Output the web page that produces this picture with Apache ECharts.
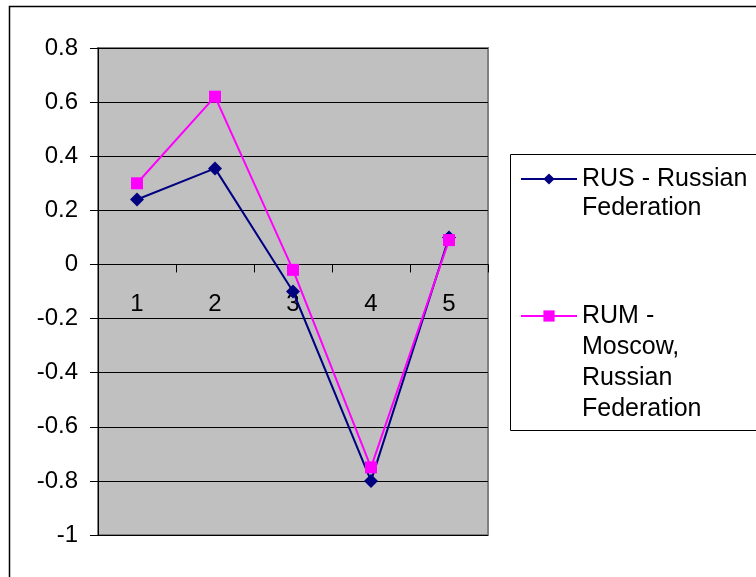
<!DOCTYPE html>
<html>
<head>
<meta charset="utf-8">
<script src="https://cdn.jsdelivr.net/npm/echarts@6/dist/echarts.min.js"></script>
<style>
  html, body { margin: 0; padding: 0; background: #fff; }
  #chart { width: 756px; height: 577px; }
</style>
</head>
<body>
<div id="chart"></div>
<script>
// Categories along the x axis
const categories = ['1', '2', '3', '4', '5'];
// Series values
const rusValues = [0.24, 0.355, -0.10, -0.80, 0.10];
const rumValues = [0.30, 0.62, -0.02, -0.75, 0.09];
// Value axis range and step
const yMin = -1;
const yMax = 0.8;
const yStep = 0.2;
// Series names and their wrapped legend labels
const rusName = 'RUS - Russian Federation';
const rumName = 'RUM - Moscow, Russian Federation';
const rusLines = ['RUS - Russian', 'Federation'];
const rumLines = ['RUM -', 'Moscow,', 'Russian', 'Federation'];

const FONT = 'Arial, "Liberation Sans", sans-serif';
const GRID = { left: 98, top: 48, width: 390, height: 487 };

// Legend text is centred on its marker; pad with empty lines above so
// the first line sits level with the marker.
function topAligned(lines) {
  return '\n'.repeat(lines.length - 1) + lines.join('\n');
}

// The category axis crosses the value axis at zero.
const zeroOffset = -GRID.height * (0 - yMin) / (yMax - yMin);

const chart = echarts.init(document.getElementById('chart'), null, { renderer: 'canvas' });

function legendText(lineHeight) {
  return { fontFamily: FONT, fontSize: 25, color: '#000', lineHeight: lineHeight };
}

chart.setOption({
  animation: false,
  backgroundColor: '#fff',
  graphic: [
    {
      type: 'rect',
      shape: { x: 9.5, y: 6.5, width: 800, height: 620 },
      style: { fill: 'none', stroke: '#000', lineWidth: 1.5 },
      z: -1
    },
    {
      type: 'rect',
      shape: { x: 510.5, y: 154.5, width: 300, height: 276 },
      style: { fill: '#fff', stroke: '#000', lineWidth: 1 },
      z: 0
    }
  ],
  grid: Object.assign({
    show: true,
    backgroundColor: '#C0C0C0',
    borderColor: '#808080',
    borderWidth: 2
  }, GRID),
  legend: [
    {
      data: [rusName],
      orient: 'vertical',
      left: 515,
      top: 130.5,
      padding: 5,
      itemWidth: 56,
      itemHeight: 14,
      formatter: () => topAligned(rusLines),
      textStyle: legendText(29),
      z: 5
    },
    {
      data: [rumName],
      orient: 'vertical',
      left: 515,
      top: 202.5,
      padding: 5,
      itemWidth: 56,
      itemHeight: 14,
      formatter: () => topAligned(rumLines),
      textStyle: legendText(31),
      z: 5
    }
  ],
  xAxis: {
    type: 'category',
    data: categories,
    boundaryGap: true,
    offset: zeroOffset,
    axisLine: { onZero: false, lineStyle: { color: '#000', width: 1 } },
    axisTick: { show: true, length: 8, lineStyle: { color: '#000' } },
    axisLabel: { fontFamily: FONT, fontSize: 24, color: '#000', margin: 28 },
    splitLine: { show: false }
  },
  yAxis: {
    type: 'value',
    min: yMin,
    max: yMax,
    interval: yStep,
    axisLine: { show: true, lineStyle: { color: '#000', width: 1 } },
    axisTick: { show: true, length: 8, lineStyle: { color: '#000' } },
    axisLabel: {
      fontFamily: FONT, fontSize: 24, color: '#000', margin: 20,
      formatter: v => String(Math.round(v * 10) / 10)
    },
    splitLine: { show: true, lineStyle: { color: '#000', width: 1 } }
  },
  series: [
    {
      name: rusName,
      type: 'line',
      data: rusValues,
      symbol: 'diamond',
      symbolSize: 14,
      showAllSymbol: true,
      lineStyle: { color: '#000080', width: 2 },
      itemStyle: { color: '#000080' }
    },
    {
      name: rumName,
      type: 'line',
      data: rumValues,
      symbol: 'rect',
      symbolSize: 12,
      showAllSymbol: true,
      lineStyle: { color: '#FF00FF', width: 2 },
      itemStyle: { color: '#FF00FF' }
    }
  ]
});
</script>
</body>
</html>
